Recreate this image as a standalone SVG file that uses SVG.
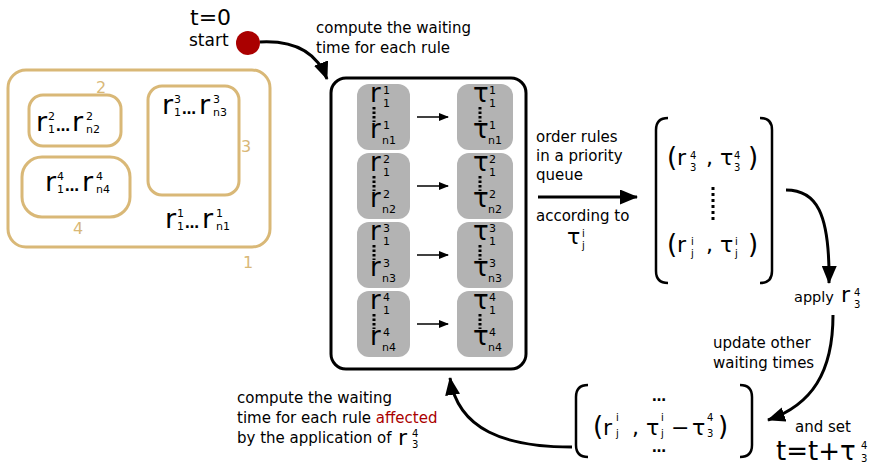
<svg xmlns="http://www.w3.org/2000/svg" width="879" height="465" viewBox="0 0 879 465">
<style>
text{font-family:"DejaVu Sans","Liberation Sans",sans-serif;fill:#000}
.lbl{font-size:15px}
.big{font-size:26px}
.r{font-size:27px}
.g{font-size:26px}
.mid{font-size:22px}
.sm{font-size:11px}
.xs{font-size:10px}
.gold{fill:none;stroke:#d9b877;stroke-width:3}
.gnum{font-size:16px;fill:#d9b877}
.grey{fill:#b3b3b3}
.dots{stroke:#000;stroke-width:3;stroke-dasharray:2.5 2}
.ell{font-size:14px;font-weight:bold}
.br{fill:none;stroke:#000;stroke-width:2.5}
.con{fill:none;stroke:#000;stroke-width:3}
.thin{fill:none;stroke:#000;stroke-width:1.5}
</style>
<defs>
<marker id="ah" markerUnits="userSpaceOnUse" markerWidth="18" markerHeight="15" refX="17" refY="7.5" orient="auto"><path d="M0,0 L18,7.5 L0,15 z" fill="#000"/></marker>
<marker id="as" markerUnits="userSpaceOnUse" markerWidth="10" markerHeight="8" refX="9" refY="4" orient="auto"><path d="M0,0 L10,4 L0,8 z" fill="#000"/></marker>
</defs>

<g id="sets">
<rect class="gold" x="8" y="70" width="262" height="177" rx="18"/>
<text class="gnum" x="248" y="268" text-anchor="middle">1</text>
<rect class="gold" x="29" y="95" width="92" height="51" rx="14"/>
<text class="gnum" x="101" y="93" text-anchor="middle">2</text>
<rect class="gold" x="22" y="157" width="108" height="60" rx="20"/>
<text class="gnum" x="78" y="234" text-anchor="middle">4</text>
<rect class="gold" x="148" y="86" width="91" height="109" rx="14"/>
<text class="gnum" x="246" y="152" text-anchor="middle">3</text>
<text class="r" x="36" y="131">r</text><text class="sm" x="48" y="120">2</text><text class="sm" x="48" y="133">1</text>
<text class="ell" x="56" y="131">…</text>
<text class="r" x="72" y="131">r</text><text class="sm" x="86" y="120">2</text><text class="sm" x="86" y="133">n2</text>
<text class="r" x="45" y="191">r</text><text class="sm" x="57" y="180">4</text><text class="sm" x="57" y="193">1</text>
<text class="ell" x="65" y="191">…</text>
<text class="r" x="82" y="191">r</text><text class="sm" x="96" y="180">4</text><text class="sm" x="96" y="193">n4</text>
<text class="r" x="162" y="114">r</text><text class="sm" x="174" y="103">3</text><text class="sm" x="174" y="116">1</text>
<text class="ell" x="182" y="114">…</text>
<text class="r" x="199" y="114">r</text><text class="sm" x="213" y="103">3</text><text class="sm" x="213" y="116">n3</text>
<text class="r" x="165" y="228">r</text><text class="sm" x="177" y="217">1</text><text class="sm" x="177" y="230">1</text>
<text class="ell" x="185" y="228">…</text>
<text class="r" x="202" y="228">r</text><text class="sm" x="216" y="217">1</text><text class="sm" x="216" y="230">n1</text>
</g>

<g id="start">
<circle cx="248" cy="43" r="12" fill="#aa0000"/>
<text class="mid" x="190" y="25">t=0</text>
<text x="189" y="46" style="font-size:17px">start</text>
</g>

<g id="rules-box">
<rect x="331" y="78" width="195" height="291" rx="15" fill="none" stroke="#000" stroke-width="3"/>
<g id="row1" transform="translate(0,84)">
<rect class="grey" x="357" y="0" width="53" height="66" rx="12"/>
<rect class="grey" x="457" y="0" width="56" height="66" rx="12"/>
<text class="g" x="370" y="18">r</text><text class="sm" x="383" y="10">1</text><text class="sm" x="383" y="23">1</text>
<line class="dots" x1="374" y1="23" x2="374" y2="38"/>
<text class="g" x="370" y="54">r</text><text class="sm" x="383" y="45">1</text><text class="sm" x="382" y="60">n1</text>
<text class="g" x="473" y="18">τ</text><text class="sm" x="489" y="10">1</text><text class="sm" x="489" y="23">1</text>
<line class="dots" x1="480" y1="23" x2="480" y2="38"/>
<text class="g" x="473" y="54">τ</text><text class="sm" x="489" y="45">1</text><text class="sm" x="488" y="60">n1</text>
</g>
<g id="row2" transform="translate(0,153)">
<rect class="grey" x="357" y="0" width="53" height="66" rx="12"/>
<rect class="grey" x="457" y="0" width="56" height="66" rx="12"/>
<text class="g" x="370" y="18">r</text><text class="sm" x="383" y="10">2</text><text class="sm" x="383" y="23">1</text>
<line class="dots" x1="374" y1="23" x2="374" y2="38"/>
<text class="g" x="370" y="54">r</text><text class="sm" x="383" y="45">2</text><text class="sm" x="382" y="60">n2</text>
<text class="g" x="473" y="18">τ</text><text class="sm" x="489" y="10">2</text><text class="sm" x="489" y="23">1</text>
<line class="dots" x1="480" y1="23" x2="480" y2="38"/>
<text class="g" x="473" y="54">τ</text><text class="sm" x="489" y="45">2</text><text class="sm" x="488" y="60">n2</text>
</g>
<g id="row3" transform="translate(0,222)">
<rect class="grey" x="357" y="0" width="53" height="66" rx="12"/>
<rect class="grey" x="457" y="0" width="56" height="66" rx="12"/>
<text class="g" x="370" y="18">r</text><text class="sm" x="383" y="10">3</text><text class="sm" x="383" y="23">1</text>
<line class="dots" x1="374" y1="23" x2="374" y2="38"/>
<text class="g" x="370" y="54">r</text><text class="sm" x="383" y="45">3</text><text class="sm" x="382" y="60">n3</text>
<text class="g" x="473" y="18">τ</text><text class="sm" x="489" y="10">3</text><text class="sm" x="489" y="23">1</text>
<line class="dots" x1="480" y1="23" x2="480" y2="38"/>
<text class="g" x="473" y="54">τ</text><text class="sm" x="489" y="45">3</text><text class="sm" x="488" y="60">n3</text>
</g>
<g id="row4" transform="translate(0,291)">
<rect class="grey" x="357" y="0" width="53" height="66" rx="12"/>
<rect class="grey" x="457" y="0" width="56" height="66" rx="12"/>
<text class="g" x="370" y="18">r</text><text class="sm" x="383" y="10">4</text><text class="sm" x="383" y="23">1</text>
<line class="dots" x1="374" y1="23" x2="374" y2="38"/>
<text class="g" x="370" y="54">r</text><text class="sm" x="383" y="45">4</text><text class="sm" x="382" y="60">n4</text>
<text class="g" x="473" y="18">τ</text><text class="sm" x="489" y="10">4</text><text class="sm" x="489" y="23">1</text>
<line class="dots" x1="480" y1="23" x2="480" y2="38"/>
<text class="g" x="473" y="54">τ</text><text class="sm" x="489" y="45">4</text><text class="sm" x="488" y="60">n4</text>
</g>
</g>

<g id="queue">
<path class="br" d="M668,118 Q656,118 656,130 L656,271 Q656,283 668,283"/>
<path class="br" d="M760,118 Q772,118 772,130 L772,271 Q772,283 760,283"/>
<text class="big" x="667" y="166">(</text>
<text class="mid" x="677" y="165">r</text><text class="xs" x="690" y="159">4</text><text class="xs" x="690" y="171">3</text>
<text class="mid" x="706" y="165">,</text>
<text class="mid" x="720" y="165">τ</text><text class="xs" x="734" y="159">4</text><text class="xs" x="734" y="171">3</text>
<text class="big" x="748" y="166">)</text>
<line x1="713" y1="187" x2="713" y2="221" stroke="#000" stroke-width="3" stroke-dasharray="3 3"/>
<text class="big" x="667" y="253">(</text>
<text class="mid" x="677" y="252">r</text><text class="xs" x="691" y="245">i</text><text class="xs" x="691" y="257">j</text>
<text class="mid" x="706" y="252">,</text>
<text class="mid" x="720" y="252">τ</text><text class="xs" x="735" y="245">i</text><text class="xs" x="735" y="257">j</text>
<text class="big" x="748" y="253">)</text>
</g>

<g id="update">
<path class="br" d="M588,385 Q576,385 576,397 L576,445 Q576,457 588,457"/>
<path class="br" d="M740,385 Q752,385 752,397 L752,445 Q752,457 740,457"/>
<text class="ell" x="659" y="401" text-anchor="middle">…</text>
<text class="big" x="593" y="435">(</text>
<text class="mid" x="603" y="435">r</text><text class="xs" x="616" y="421">i</text><text class="xs" x="616" y="437">j</text>
<text class="mid" x="632" y="435">,</text>
<text class="mid" x="646" y="435">τ</text><text class="xs" x="661" y="421">i</text><text class="xs" x="661" y="437">j</text>
<text class="mid" x="671" y="435">−</text>
<text class="mid" x="692" y="435">τ</text><text class="xs" x="707" y="421">4</text><text class="xs" x="707" y="437">3</text>
<text class="big" x="718" y="435">)</text>
<text class="ell" x="659" y="452" text-anchor="middle">…</text>
</g>

<g id="labels">
<text class="lbl" x="316" y="33">compute the waiting</text>
<text class="lbl" x="316" y="53">time for each rule</text>
<text class="lbl" x="536" y="142">order rules</text>
<text class="lbl" x="536" y="161">in a priority</text>
<text class="lbl" x="536" y="180">queue</text>
<text class="lbl" x="536" y="221">according to</text>
<text class="mid" x="567" y="244">τ</text><text class="xs" x="582" y="237">i</text><text class="xs" x="582" y="249">j</text>
<text x="794" y="302" style="font-size:14.5px">apply</text>
<text class="mid" x="841" y="302">r</text><text class="xs" x="854" y="296">4</text><text class="xs" x="854" y="308">3</text>
<text class="lbl" x="713" y="348">update other</text>
<text class="lbl" x="713" y="368">waiting times</text>
<text class="lbl" x="795" y="432">and set</text>
<text x="776" y="460" style="font-size:26px">t=t+τ</text><text class="xs" x="861" y="449">4</text><text class="xs" x="861" y="462">3</text>
<text class="lbl" x="237" y="403">compute the waiting</text>
<text class="lbl" x="237" y="423">time for each rule <tspan fill="#aa0000">affected</tspan></text>
<text class="lbl" x="237" y="443">by the application of</text>
<text class="mid" x="398" y="445">r</text><text class="xs" x="412" y="437">4</text><text class="xs" x="412" y="448">3</text>
</g>

<g id="connectors">
<path class="con" d="M260,42 C298,40 318,55 327,79" marker-end="url(#ah)"/>
<line class="thin" x1="417" y1="117" x2="448" y2="117" marker-end="url(#as)"/>
<line class="thin" x1="417" y1="186" x2="448" y2="186" marker-end="url(#as)"/>
<line class="thin" x1="417" y1="255" x2="448" y2="255" marker-end="url(#as)"/>
<line class="thin" x1="417" y1="324" x2="448" y2="324" marker-end="url(#as)"/>
<line class="con" x1="538" y1="197" x2="637" y2="197" marker-end="url(#ah)"/>
<path class="con" d="M786,190 C816,190 830,212 829,283" marker-end="url(#ah)"/>
<path class="con" d="M833,315 C833,372 812,405 768,420" marker-end="url(#ah)"/>
<path class="con" d="M572,447 C505,447 458,430 450,378" marker-end="url(#ah)"/>
</g>
</svg>
